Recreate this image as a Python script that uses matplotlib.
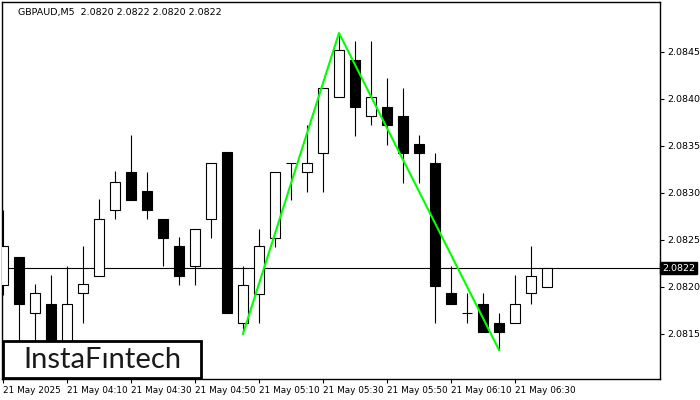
import matplotlib.pyplot as plt
import matplotlib.transforms as mtransforms
from matplotlib.patches import Rectangle

# 5-minute GBPAUD candles, 21 May 2025, starting 03:50
times = ["03:50", "03:55", "04:00", "04:05", "04:10", "04:15", "04:20", "04:25",
         "04:30", "04:35", "04:40", "04:45", "04:50", "04:55", "05:00", "05:05",
         "05:10", "05:15", "05:20", "05:25", "05:30", "05:35", "05:40", "05:45",
         "05:50", "05:55", "06:00", "06:05", "06:10", "06:15", "06:20", "06:25",
         "06:30", "06:35", "06:40"]
opens = [2.08202, 2.08232, 2.08172, 2.08182, 2.08130, 2.08193, 2.08212, 2.08282,
         2.08322, 2.08302, 2.08272, 2.08243, 2.08222, 2.08272, 2.08343, 2.08162,
         2.08192, 2.08252, 2.08332, 2.08322, 2.08342, 2.08402, 2.08441, 2.08382,
         2.08391, 2.08382, 2.08352, 2.08332, 2.08193, 2.08172, 2.08182, 2.08162,
         2.08162, 2.08193, 2.08200]
highs = [2.08282, 2.08232, 2.08203, 2.08213, 2.08222, 2.08243, 2.08293, 2.08323,
         2.08362, 2.08322, 2.08272, 2.08253, 2.08262, 2.08332, 2.08343, 2.08222,
         2.08262, 2.08322, 2.08332, 2.08372, 2.08411, 2.08470, 2.08462, 2.08462,
         2.08422, 2.08411, 2.08362, 2.08342, 2.08222, 2.08193, 2.08193, 2.08172,
         2.08213, 2.08243, 2.08220]
lows = [2.08191, 2.08130, 2.08130, 2.08120, 2.08120, 2.08162, 2.08212, 2.08272,
        2.08292, 2.08272, 2.08222, 2.08202, 2.08202, 2.08252, 2.08172, 2.08150,
        2.08162, 2.08242, 2.08292, 2.08301, 2.08301, 2.08402, 2.08361, 2.08372,
        2.08351, 2.08311, 2.08311, 2.08162, 2.08182, 2.08162, 2.08152, 2.08133,
        2.08162, 2.08182, 2.08200]
closes = [2.08243, 2.08182, 2.08193, 2.08130, 2.08182, 2.08203, 2.08272, 2.08312,
          2.08292, 2.08282, 2.08252, 2.08212, 2.08262, 2.08332, 2.08172, 2.08202,
          2.08243, 2.08322, 2.08332, 2.08332, 2.08411, 2.08452, 2.08391, 2.08402,
          2.08372, 2.08342, 2.08342, 2.08201, 2.08182, 2.08172, 2.08152, 2.08152,
          2.08182, 2.08212, 2.08220]

# pattern (double top zigzag) points: candle index and price
pattern_idx = [15, 21, 31]
pattern_price = [2.08150, 2.08470, 2.08133]

last_price = 2.0822
price_ticks = [2.0815, 2.0820, 2.0825, 2.0830, 2.0835, 2.0840, 2.0845]
time_tick_idx = [0, 4, 8, 12, 16, 20, 24, 28, 32]


def main():
    fig = plt.figure(figsize=(7, 4), dpi=100)
    ax = fig.add_axes([2 / 700, 21 / 400, 658 / 700, 377 / 400])

    width = 0.65
    for i in range(len(opens)):
        o, h, l, c = opens[i], highs[i], lows[i], closes[i]
        ax.vlines(i, l, h, color="black", linewidth=0.8, zorder=2)
        if abs(c - o) < 1e-6:
            ax.hlines(o, i - width / 2, i + width / 2, color="black",
                      linewidth=0.8, zorder=3)
        else:
            face = "white" if c > o else "black"
            ax.bar(i, abs(c - o), bottom=min(o, c), width=width, color=face,
                   edgecolor="black", linewidth=0.8, zorder=3)

    ax.axhline(last_price, color="black", linewidth=0.8, zorder=1)
    ax.plot(pattern_idx, pattern_price, color="#00ff00", linewidth=1.5, zorder=4)

    ax.set_xlim(-0.06, 41.06)
    ax.set_ylim(2.08102, 2.08503)

    ax.yaxis.tick_right()
    ax.set_yticks(price_ticks)
    ax.set_yticklabels(["%.4f" % p for p in price_ticks])
    ax.set_xticks(time_tick_idx)
    labels = ["21 May 2025" if k == 0 else "21 May " + times[k] for k in time_tick_idx]
    ax.set_xticklabels(labels, ha="left")
    ax.tick_params(axis="x", labelsize=6.4, length=3, width=0.8,
                   direction="out", pad=2)
    ax.tick_params(axis="y", labelsize=6.8, length=3, width=0.8,
                   direction="out", pad=2)
    for sp in ax.spines.values():
        sp.set_linewidth(1.0)

    # current price tag on the right axis
    trans = mtransforms.blended_transform_factory(ax.transAxes, ax.transData)
    ax.text(1.003, last_price, "%.4f" % last_price, transform=trans,
            fontsize=6.8, color="white", va="center", ha="left",
            bbox=dict(boxstyle="square,pad=0.2", facecolor="black",
                      edgecolor="black"), clip_on=False, zorder=6)

    ax.text(0.025, 0.985, "GBPAUD,M5  2.0820 2.0822 2.0820 2.0822",
            transform=ax.transAxes, fontsize=6.8, va="top", ha="left")

    # logo box
    fig.patches.append(Rectangle((3 / 700, 22 / 400), 198 / 700, 37 / 400,
                                 transform=fig.transFigure, facecolor="white",
                                 edgecolor="black", linewidth=2, zorder=10))
    fig.text(102 / 700, 1 - 360 / 400, "InstaF\u0131ntech", fontsize=21,
             family="Lato", color="#1a1a1a", ha="center", va="center",
             zorder=11)

    plt.savefig("out.png", dpi=100)


if __name__ == "__main__":
    main()
